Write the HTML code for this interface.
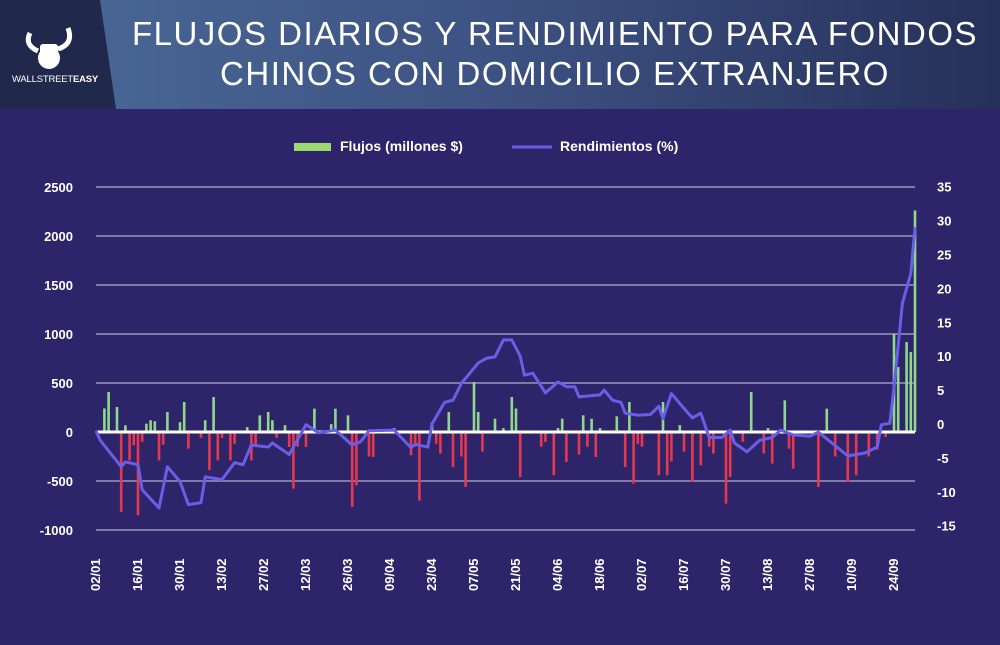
<!DOCTYPE html>
<html><head><meta charset="utf-8"><style>
body{margin:0;width:1000px;height:645px;overflow:hidden;background:#2e246a;font-family:"Liberation Sans",sans-serif}
#hdr{position:absolute;left:0;top:0;width:1000px;height:109px;background:linear-gradient(90deg,#4a6a98 0%,#3d5282 50%,#26305a 100%)}
#logo{position:absolute;left:0;top:0;width:116px;height:109px;background:#20284b;clip-path:polygon(0 0,100px 0,116px 109px,0 109px)}
#title{position:absolute;left:120px;width:870px;top:14px;text-align:center;color:#fff;font-size:33px;letter-spacing:1.5px;line-height:40px;font-weight:300}
</style></head><body>
<div id="hdr"></div>
<div id="logo">
<svg width="100" height="109"><path d="M30 33 q-6 12 8 18 M68 28 q6 16 -10 21" stroke="#fff" stroke-width="5" fill="none"/><circle cx="49" cy="58" r="11" fill="#fff"/><rect x="40" y="44" width="18" height="10" rx="3" fill="#fff"/></svg>
<div style="position:absolute;left:12px;top:74px;color:#fff;font-size:9.5px;letter-spacing:-0.2px">WALLSTREET<b>EASY</b></div>
</div>
<div id="title">FLUJOS DIARIOS Y RENDIMIENTO PARA FONDOS<br>CHINOS CON DOMICILIO EXTRANJERO</div>
<svg id="c" width="1000" height="645" style="position:absolute;left:0;top:0"></svg>
<script>
const leftTicks=[2500,2000,1500,1000,500,0,-500,-1000];
const rightTicks=[35,30,25,20,15,10,5,0,-5,-10,-15];
const dateLabels=["02/01","16/01","30/01","13/02","27/02","12/03","26/03","09/04","23/04","07/05","21/05","04/06","18/06","02/07","16/07","30/07","13/08","27/08","10/09","24/09"];
const flowDays=[2,3,5,6,7,8,9,10,11,12,13,14,15,16,17,20,21,22,25,26,27,28,29,30,32,33,36,37,38,39,41,42,43,45,46,47,48,50,52,56,57,60,61,62,65,66,67,71,75,76,77,80,81,82,84,85,87,88,90,91,92,95,97,99,100,101,106,107,109,110,111,112,115,116,117,118,119,120,124,126,127,128,129,130,134,135,136,137,139,140,142,144,146,147,150,151,154,156,159,160,161,164,165,166,172,174,176,179,181,184,186,188,190,191,193,194,195];
const flowVals=[240,408,255,-816,68,-290,-136,-850,-100,85,120,110,-290,-130,204,100,306,-170,-60,120,-390,357,-290,-60,-290,-120,50,-290,-140,170,204,120,-60,70,-153,-578,-150,-153,238,80,238,170,-765,-544,-250,-255,30,40,-238,-150,-700,100,-120,-221,204,-357,-250,-560,510,204,-200,136,40,357,240,-459,-150,-100,-442,40,136,-306,-230,170,-150,135,-255,40,160,-357,306,-527,-120,-150,-442,306,-442,-300,70,-200,-510,-340,-150,-220,-731,-459,-100,408,-220,40,-323,323,-170,-374,-561,238,-250,-510,-442,-250,-180,-50,1003,663,918,816,2261];
const retDays=[0,1,6,7,10,11,15,17,20,22,25,26,30,33,35,37,41,42,46,50,53,57,61,63,65,71,75,76,79,80,83,85,87,89,91,93,95,97,99,101,102,104,107,110,112,114,115,120,121,123,125,126,129,132,134,135,137,140,142,144,146,149,151,152,155,158,161,163,166,170,172,179,183,186,187,189,190,192,194,195];
const retVals=[-1,-2.4,-6.3,-5.6,-6,-9.7,-12.4,-6.3,-8.5,-11.9,-11.6,-7.8,-8.2,-5.7,-6,-3.1,-3.4,-2.8,-4.5,-0.1,-1.3,-0.9,-3.1,-2.6,-1,-0.9,-3.5,-3,-3.4,0,3.2,3.5,6,7.5,9,9.7,9.9,12.4,12.4,10,7.2,7.5,4.6,6.2,5.5,5.5,4,4.3,5,3.5,3.2,1.6,1.3,1.4,2.6,0.8,4.5,2.3,0.9,1.6,-2,-2,-0.9,-2.8,-4.1,-2.4,-2,-0.9,-1.6,-1.8,-1.2,-4.7,-4.3,-3.4,-0.1,0.1,5.4,17.8,22.2,29];
const NS="http://www.w3.org/2000/svg",svg=document.getElementById('c');
const X0=96,DX=4.2;
const xd=i=>X0+i*DX;
const yl=v=>432-v*0.098;
const yr=v=>424-v*6.78;
function mk(t,a,p){const e=document.createElementNS(NS,t);for(const k in a)e.setAttribute(k,a[k]);(p||svg).appendChild(e);return e;}
leftTicks.forEach(v=>{
 const l=mk('line',{x1:96,x2:915,y1:yl(v),y2:yl(v),stroke:v===0?'#ffffff':'#9a93bd','stroke-width':v===0?3:1.5});
 
 
 const t=mk('text',{x:73,y:yl(v)+5,'text-anchor':'end',fill:'#fff','font-size':13,'font-weight':'bold'});t.textContent=v;
 
 
});
rightTicks.forEach(v=>{
 const t=mk('text',{x:937,y:yr(v)+5,'text-anchor':'start',fill:'#fff','font-size':13,'font-weight':'bold'});t.textContent=v;
 
 
});
dateLabels.forEach((d,k)=>{
 const x=xd(k*10)+4;
 const t=mk('text',{x:0,y:0,transform:`translate(${x},591) rotate(-90)`,'text-anchor':'start',fill:'#fff','font-size':13,'font-weight':'bold'});t.textContent=d;
 
 
});
flowDays.forEach((d,k)=>{
 const v=flowVals[k],y=yl(v),y0=yl(0);
 const r=mk('rect',{x:xd(d)-1.3,width:2.6,y:Math.min(y,y0),height:Math.abs(y-y0),fill:v>=0?'#8fd88a':'#e5384f'});
 
 
});
const zl=mk('line',{x1:96,x2:915,y1:432,y2:432,stroke:'#fff','stroke-width':3});


const pl=mk('polyline',{points:retDays.map((d,k)=>xd(d)+','+yr(retVals[k])).join(' '),fill:'none',stroke:'#6a5ee6','stroke-width':3,'stroke-linejoin':'round'});


const s1=mk('rect',{x:294,y:143,width:37,height:8,fill:'#9ed872'});


const t1=mk('text',{x:340,y:151,fill:'#fff','font-size':14,'font-weight':'bold'});t1.textContent='Flujos (millones $)';


const s2=mk('line',{x1:512,x2:552,y1:147,y2:147,stroke:'#6a5ee6','stroke-width':3});


const t2=mk('text',{x:560,y:151,fill:'#fff','font-size':14,'font-weight':'bold'});t2.textContent='Rendimientos (%)';


</script>
</body></html>
